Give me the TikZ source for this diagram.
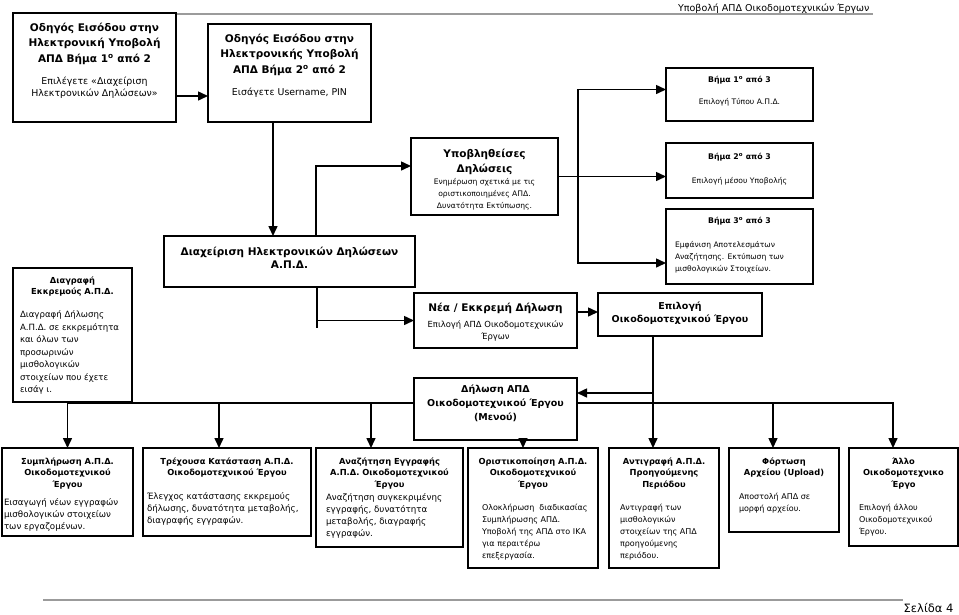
\documentclass[tikz,border=0pt]{standalone}
\usepackage{fontspec}
\setmainfont{DejaVu Sans}
\usetikzlibrary{arrows.meta, positioning}
\usepackage{xcolor}
\definecolor{rulegray}{RGB}{155,155,155}
\newcommand{\HeadL}{\fontsize{10.5}{15.5}\selectfont\bfseries}
\newcommand{\HeadM}{\fontsize{10.5}{14}\selectfont\bfseries}
\newcommand{\HeadS}{\fontsize{9.5}{13.5}\selectfont\bfseries}
\newcommand{\HeadT}{\fontsize{8.3}{11.5}\selectfont\bfseries}
\newcommand{\HeadX}{\fontsize{7.8}{10}\selectfont\bfseries}
\newcommand{\BodyL}{\fontsize{9.4}{12}\selectfont}
\newcommand{\BodyM}{\fontsize{8.7}{12}\selectfont}
\newcommand{\BodyN}{\fontsize{8}{12}\selectfont}
\newcommand{\BodyS}{\fontsize{7.6}{12}\selectfont}
\newcommand{\pane}[3]{\begin{minipage}[t][#2][t]{#1}#3\end{minipage}}
\newcommand{\ctr}[2]{{\centering#1#2\par}}
\newcommand{\lft}[3]{{\raggedright\leftskip=#1#2#3\par}}

\begin{document}
\begin{tikzpicture}[x=1pt,y=-1pt,>={Triangle[length=10pt,width=9pt]},
    box/.style={draw, line width=1.8pt, fill=white, inner sep=0pt, outer sep=0pt, anchor=north west},
    link/.style={line width=1.5pt},
    rulefg/.style={draw=rulegray, line width=1.3pt}]
  \useasboundingbox (0,0) rectangle (959,614);

  % page header and footer
  \node[anchor=base east, font=\fontsize{9.5}{12}\selectfont] (hdr) at (873,11) {Υποβολή ΑΠΔ Οικοδομοτεχνικών Έργων};
  \draw[rulefg] (43,14) -- (873,14);
  \draw[rulefg] (43,600) -- (903,600);
  \node[anchor=base east, font=\fontsize{11.5}{13}\selectfont] (pg) at (957,612) {Σελίδα 4};

  % login guide
  \node[box] (guideA) at (13,13) {\pane{163pt}{109pt}{\vspace*{10pt}%
    \ctr\HeadL{Οδηγός Εισόδου στην\\Ηλεκτρονική Υποβολή\\ΑΠΔ Βήμα 1\textsuperscript{o} από 2}%
    \vspace{10pt}%
    \ctr\BodyL{Επιλέγετε «Διαχείριση\\Ηλεκτρονικών Δηλώσεων»}}};
  \node[box] (guideB) at (208,24) {\pane{163pt}{98pt}{\vspace*{10pt}%
    \ctr\HeadL{Οδηγός Εισόδου στην\\Ηλεκτρονικής Υποβολή\\ΑΠΔ Βήμα 2\textsuperscript{o} από 2}%
    \vspace{10pt}%
    \ctr\BodyL{Εισάγετε Username, PIN}}};

  % steps
  \node[box] (step1) at (666,68) {\pane{147pt}{53pt}{\vspace*{8pt}%
    \ctr\HeadX{Βήμα 1\textsuperscript{o} από 3}%
    \vspace{10pt}%
    \ctr\BodyS{Επιλογή Τύπου Α.Π.Δ.}}};
  \node[box] (step2) at (666,143) {\pane{147pt}{55pt}{\vspace*{10pt}%
    \ctr\HeadX{Βήμα 2\textsuperscript{o} από 3}%
    \vspace{12pt}%
    \ctr\BodyS{Επιλογή μέσου Υποβολής}}};
  \node[box] (step3) at (666,209) {\pane{147pt}{75pt}{\vspace*{8pt}%
    \ctr\HeadX{Βήμα 3\textsuperscript{o} από 3}%
    \vspace{12pt}%
    \lft{9pt}\BodyS{Εμφάνιση Αποτελεσμάτων\\Αναζήτησης. Εκτύπωση των\\μισθολογικών Στοιχείων.}}};

  \node[box] (filed) at (411,138) {\pane{147pt}{77pt}{\vspace*{11pt}%
    \ctr{\fontsize{10.5}{15}\selectfont\bfseries}{Υποβληθείσες\\Δηλώσεις}%
    \ctr\BodyS{Ενημέρωση σχετικά με τις\\οριστικοποιημένες ΑΠΔ.\\Δυνατότητα Εκτύπωσης.}}};

  \node[box] (manage) at (164,236) {\pane{251pt}{51pt}{\vspace*{11pt}%
    \ctr{\fontsize{10.5}{13}\selectfont\bfseries}{Διαχείριση Ηλεκτρονικών Δηλώσεων\\Α.Π.Δ.}}};

  \node[box] (del) at (13,268) {\pane{119pt}{134pt}{\vspace*{8.7pt}%
    \ctr\HeadT{Διαγραφή\\Εκκρεμούς Α.Π.Δ.}%
    \vspace{10.5pt}%
    \lft{7pt}{\fontsize{8.6}{12.5}\selectfont}{Διαγραφή Δήλωσης\\Α.Π.Δ. σε εκκρεμότητα\\και όλων των\\προσωρινών\\μισθολογικών\\στοιχείων που έχετε\\εισάγ ι.}}};

  \node[box] (new) at (414,293) {\pane{163pt}{55pt}{\vspace*{10pt}%
    \ctr\HeadM{Νέα / Εκκρεμή Δήλωση}%
    \vspace{4pt}%
    \ctr{\fontsize{8.4}{12}\selectfont}{Επιλογή ΑΠΔ Οικοδομοτεχνικών\\Έργων}}};
  \node[box] (pick) at (598,293) {\pane{164pt}{43pt}{\vspace*{9pt}%
    \ctr{\fontsize{9.5}{13}\selectfont\bfseries}{Επιλογή\\Οικοδομοτεχνικού Έργου}}};
  \node[box] (menu) at (414,378) {\pane{163pt}{62pt}{\vspace*{7pt}%
    \ctr{\fontsize{9.5}{14}\selectfont\bfseries}{Δήλωση ΑΠΔ\\Οικοδομοτεχνικού Έργου\\(Μενού)}}};

  % menu entries
  \node[box] (fillA) at (2,448) {\pane{131pt}{88pt}{\vspace*{9.7pt}%
    \ctr\HeadT{Συμπλήρωση Α.Π.Δ.\\Οικοδομοτεχνικού\\Έργου}%
    \vspace{6pt}%
    \lft{2pt}\BodyM{Εισαγωγή νέων εγγραφών\\μισθολογικών στοιχείων\\των εργαζομένων.}}};
  \node[box] (stateB) at (143,448) {\pane{168pt}{88pt}{\vspace*{9.7pt}%
    \ctr\HeadT{Τρέχουσα Κατάσταση Α.Π.Δ.\\Οικοδομοτεχνικού Έργου}%
    \vspace{12pt}%
    \lft{4pt}\BodyM{Έλεγχος κατάστασης εκκρεμούς\\δήλωσης, δυνατότητα μεταβολής,\\διαγραφής εγγραφών.}}};
  \node[box] (searchC) at (316,448) {\pane{147pt}{99pt}{\vspace*{9.7pt}%
    \ctr\HeadT{Αναζήτηση Εγγραφής\\Α.Π.Δ. Οικοδομοτεχνικού\\Έργου}%
    \vspace{1pt}%
    \lft{10pt}\BodyM{Αναζήτηση συγκεκριμένης\\εγγραφής, δυνατότητα\\μεταβολής, διαγραφής\\εγγραφών.}}};
  \node[box] (finalD) at (468,448) {\pane{130pt}{120pt}{\vspace*{9.7pt}%
    \ctr\HeadT{Οριστικοποίηση Α.Π.Δ.\\Οικοδομοτεχνικού\\Έργου}%
    \vspace{11pt}%
    \lft{14pt}\BodyN{Ολοκλήρωση\ \ διαδικασίας\\Συμπλήρωσης ΑΠΔ.\\Υποβολή της ΑΠΔ στο ΙΚΑ\\για περαιτέρω\\επεξεργασία.}}};
  \node[box] (copyE) at (609,448) {\pane{110pt}{120pt}{\vspace*{9.7pt}%
    \ctr\HeadT{Αντιγραφή Α.Π.Δ.\\Προηγούμενης\\Περιόδου}%
    \vspace{11pt}%
    \lft{11pt}\BodyN{Αντιγραφή των\\μισθολογικών\\στοιχείων της ΑΠΔ\\προηγούμενης\\περιόδου.}}};
  \node[box] (loadF) at (729,448) {\pane{110pt}{84pt}{\vspace*{9.7pt}%
    \ctr\HeadT{Φόρτωση\\Αρχείου (Upload)}%
    \vspace{12pt}%
    \lft{10pt}\BodyN{Αποστολή ΑΠΔ σε\\μορφή αρχείου.}}};
  \node[box] (otherG) at (849,448) {\pane{109pt}{98pt}{\vspace*{9.7pt}%
    \ctr\HeadT{Άλλο\\Οικοδομοτεχνικο\\Έργο}%
    \vspace{11pt}%
    \lft{10pt}\BodyN{Επιλογή άλλου\\Οικοδομοτεχνικού\\Έργου.}}};

  % connectors
  \coordinate (gA) at ([yshift=-83pt]guideA.north east);
  \draw[link,->] (gA) -- (gA -| guideB.west);
  \coordinate (gB) at ([xshift=-16.5pt]guideB.south);
  \draw[link,->] (gB) -- (gB |- manage.north);
  \coordinate (mN) at ([xshift=26.5pt]manage.north);
  \coordinate (fW) at ([yshift=10.5pt]filed.west);
  \draw[link,->] (mN) |- (fW);
  \coordinate (fork) at ([xshift=20pt]filed.east);
  \draw[link,->] (filed.east) -- (filed.east -| step2.west);
  \draw[link,->] (fork) |- ([yshift=5pt]step1.west);
  \draw[link,->] (fork) |- ([yshift=-16.5pt]step3.west);
  \coordinate (mS) at ([xshift=27.5pt]manage.south);
  \draw[link] (mS) -- ++(0,41);
  \draw[link,->] (mS |- new.west) -- (new.west);
  \coordinate (nE) at ([yshift=8.5pt]new.east);
  \draw[link,->] (nE) -- (nE -| pick.west);
  \coordinate (pS) at ([xshift=-27pt]pick.south);
  \draw[link,->] (pS) -- (pS |- copyE.north);
  \coordinate (mE) at ([yshift=16pt]menu.east);
  \draw[link,->] (pS |- mE) -- (mE);
  \coordinate (busL) at ([yshift=6pt]menu.west);
  \coordinate (busR) at ([yshift=6pt]menu.east);
  \coordinate (dB) at ([xshift=-8pt]stateB.north);
  \coordinate (dC) at ([xshift=-18.5pt]searchC.north);
  \coordinate (dD) at ([xshift=27.5pt]menu.south);
  \coordinate (dF) at ([xshift=-11pt]loadF.north);
  \coordinate (dG) at ([xshift=-10.5pt]otherG.north);
  \draw[link,->] (busL) -| (fillA.north);
  \draw[link,->] (busL -| dB) -- (dB);
  \draw[link,->] (busL -| dC) -- (dC);
  \draw[link,->] (dD) -- (dD |- finalD.north);
  \draw[link,->] (busR) -| (dG);
  \draw[link,->] (busR -| dF) -- (dF);
\end{tikzpicture}
\end{document}
